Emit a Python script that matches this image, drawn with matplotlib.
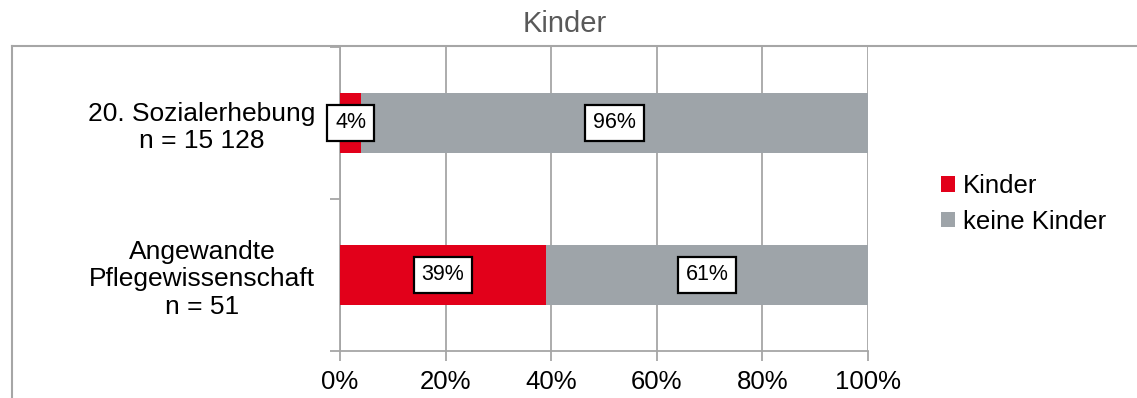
import matplotlib.pyplot as plt
from matplotlib.lines import Line2D
from matplotlib.ticker import FixedLocator, NullFormatter, FixedFormatter

plt.rcParams['font.family'] = ['Liberation Sans', 'DejaVu Sans']

# data
categories = ['20. Sozialerhebung\nn = 15 128',
              'Angewandte\nPflegewissenschaft\nn = 51']
kinder = [4, 39]
keine_kinder = [96, 61]
series_names = ['Kinder', 'keine Kinder']
xticks = [0, 20, 40, 60, 80, 100]

red = '#E2001A'
grey = '#9EA4A9'
line_grey = '#A6A6A6'

fig = plt.figure(figsize=(11.37, 3.98), dpi=100)
ax = fig.add_axes([340 / 1137, 1 - 351 / 398, 528 / 1137, 304 / 398])

pos = list(range(len(categories)))
b1 = ax.barh(pos, kinder, height=0.4, color=red, label=series_names[0], zorder=3)
b2 = ax.barh(pos, keine_kinder, left=kinder, height=0.4, color=grey,
             label=series_names[1], zorder=3)

# value labels in white boxes
for bars, vals, lefts in [(b1, kinder, [0] * len(kinder)),
                          (b2, keine_kinder, kinder)]:
    for y, v, l in zip(pos, vals, lefts):
        ax.text(l + v / 2, y, '%d%%' % v, ha='center', va='center',
                fontsize=15.5, zorder=5,
                bbox=dict(boxstyle='square,pad=0.36', fc='white',
                          ec='black', lw=1.6))

ax.set_xlim(0, 100)
ax.set_ylim(1.5, -0.5)
ax.set_xticks(xticks)
ax.set_xticklabels(['%d%%' % t for t in xticks])
ax.xaxis.grid(True, color=line_grey, lw=1.3)
ax.set_axisbelow(True)

# y axis: tick marks between categories, labels at centres
ax.yaxis.set_major_locator(FixedLocator([-0.5, 0.5, 1.5]))
ax.yaxis.set_major_formatter(NullFormatter())
ax.yaxis.set_minor_locator(FixedLocator(pos))
ax.yaxis.set_minor_formatter(FixedFormatter(categories))
ax.tick_params(axis='y', which='major', length=7, width=1.3, color=line_grey)
ax.tick_params(axis='y', which='minor', length=0, pad=18, labelsize=19)
ax.tick_params(axis='x', length=7, width=1.3, color=line_grey, pad=7,
               labelsize=18.5)
for lab in ax.get_yminorticklabels():
    lab.set_multialignment('center')

for side in ['top', 'right']:
    ax.spines[side].set_visible(False)
for side in ['left', 'bottom']:
    ax.spines[side].set_color(line_grey)
    ax.spines[side].set_linewidth(1.3)

# outer chart frame
fx = 12 / 1137
fy = 1 - 46 / 398
fig.add_artist(Line2D([fx, 1], [fy, fy], color=line_grey, lw=1.5))
fig.add_artist(Line2D([fx, fx], [0, fy], color=line_grey, lw=1.5))

fig.text(565 / 1137, 1 - 24 / 398, 'Kinder', ha='center', va='center',
         fontsize=21, color='#595959')

fig.legend(handles=[b1, b2], loc='center left',
           bbox_to_anchor=(918 / 1137, 1 - 204 / 398), frameon=False,
           fontsize=18.5, handlelength=0.55, handleheight=0.55,
           handletextpad=0.3, labelspacing=0.45)

fig.savefig('out.png', dpi=100)
